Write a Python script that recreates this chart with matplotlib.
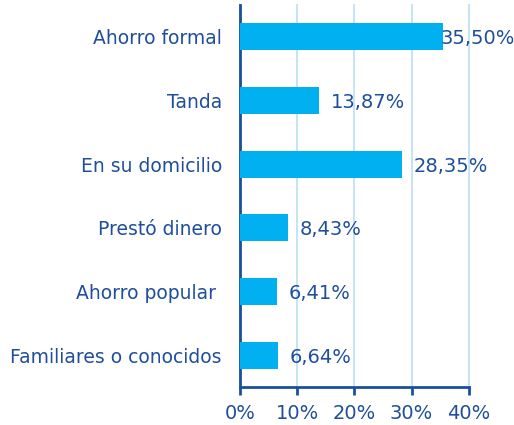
import matplotlib.pyplot as plt
from matplotlib.ticker import FuncFormatter

# categories and values (percent)
categories = ["Ahorro formal", "Tanda", "En su domicilio", "Prestó dinero",
              "Ahorro popular ", "Familiares o conocidos"]
values = [35.50, 13.87, 28.35, 8.43, 6.41, 6.64]
x_ticks = [0, 10, 20, 30, 40]

text_color = "#1f4e9c"
bar_color = "#00b0f0"
grid_color = "#bfe3f6"
axis_color = "#1a4fa0"

fig = plt.figure(figsize=(5.14, 4.25), dpi=100)
ax = fig.add_axes([0.467, 0.0894, 0.445, 0.899])

y_pos = list(range(len(categories)))
ax.barh(y_pos, values, height=0.42, color=bar_color, zorder=3)

ax.set_xlim(0, 40)
ax.set_ylim(len(categories) - 0.5, -0.5)
ax.set_xticks(x_ticks)
ax.xaxis.set_major_formatter(FuncFormatter(lambda v, p: "%d%%" % v))
ax.set_yticks(y_pos)
ax.set_yticklabels(categories)

#     grid lines and spines
ax.grid(axis="x", color=grid_color, linewidth=1.3, zorder=0, clip_on=False)
for side in ["top", "right"]:
    ax.spines[side].set_visible(False)
for side in ["left", "bottom"]:
    ax.spines[side].set_color(axis_color)
    ax.spines[side].set_linewidth(2)

ax.tick_params(axis="x", colors=axis_color, labelcolor=text_color, labelsize=14,
               length=6, width=2, direction="out", pad=6)
ax.tick_params(axis="y", length=0, labelcolor=text_color, labelsize=13.5, pad=13)

#     value labels next to the bars (kept inside the figure)
for y, v in zip(y_pos, values):
    label = ("%.2f%%" % v).replace(".", ",")
    x = min(v + 2.0, 35.0)
    ax.text(x, y + 0.03, label, va="center", ha="left", fontsize=14, color=text_color,
            zorder=4)

plt.savefig("out.png", dpi=100)
